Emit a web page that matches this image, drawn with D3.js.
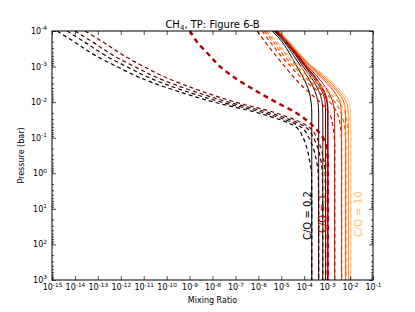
<!DOCTYPE html>
<html><head><meta charset="utf-8">
<script src="https://cdn.jsdelivr.net/npm/d3@7"></script>
<style>body{margin:0;background:#fff}svg{display:block}text{font-family:"DejaVu Sans",sans-serif}</style>
</head><body><svg id="c" width="415" height="312"></svg>
<script>
// ---- data ----
const pressureBar = [1e-4, 2e-4, 5e-4, 1e-3, 2e-3, 5e-3, 1e-2, 2e-2, 5e-2, 1e-1, 2e-1, 5e-1, 1, 10, 100, 1000];
const coRatios = [0.2, 0.4, 0.6, 0.8, 1, 2, 4, 6, 8, 10];
const lineColors = ["#000000", "#250000", "#4a0000", "#700000", "#b00000", "#c80a00", "#e03000", "#ff5c00", "#ff8e1c", "#ffbf80"];
// log10 of CH4 mixing ratio, equilibrium (solid)
const eqLog = [
  [-5.40, -4.97, -4.58, -4.32, -4.05, -3.79, -3.70, -3.67, -3.67, -3.67, -3.67, -3.67, -3.67, -3.67, -3.67, -3.67],
  [-5.32, -4.88, -4.45, -4.14, -3.84, -3.53, -3.40, -3.37, -3.37, -3.37, -3.37, -3.37, -3.37, -3.37, -3.37, -3.37],
  [-5.27, -4.84, -4.36, -4.05, -3.70, -3.36, -3.22, -3.19, -3.19, -3.19, -3.19, -3.19, -3.19, -3.19, -3.19, -3.19],
  [-5.23, -4.79, -4.32, -3.97, -3.62, -3.22, -3.09, -3.07, -3.07, -3.07, -3.07, -3.07, -3.07, -3.07, -3.07, -3.07],
  [-5.19, -4.75, -4.27, -3.92, -3.53, -3.14, -3.00, -2.97, -2.97, -2.97, -2.97, -2.97, -2.97, -2.97, -2.97, -2.97],
  [-5.19, -4.75, -4.23, -3.84, -3.40, -2.96, -2.75, -2.68, -2.67, -2.67, -2.67, -2.67, -2.67, -2.67, -2.67, -2.67],
  [-5.14, -4.71, -4.18, -3.75, -3.27, -2.70, -2.44, -2.38, -2.37, -2.37, -2.37, -2.37, -2.37, -2.37, -2.37, -2.37],
  [-5.14, -4.71, -4.18, -3.70, -3.18, -2.57, -2.27, -2.20, -2.19, -2.19, -2.19, -2.19, -2.19, -2.19, -2.19, -2.19],
  [-5.10, -4.66, -4.14, -3.66, -3.09, -2.48, -2.16, -2.08, -2.07, -2.07, -2.07, -2.07, -2.07, -2.07, -2.07, -2.07],
  [-5.10, -4.64, -4.10, -3.62, -3.00, -2.40, -2.05, -1.98, -1.97, -1.97, -1.97, -1.97, -1.97, -1.97, -1.97, -1.97]
];
// log10 of CH4 mixing ratio, disequilibrium (dashed)
const diseqLog = [
  [-14.78, -14.04, -13.08, -12.17, -11.20, -9.50, -7.93, -6.02, -4.36, -4.05, -3.88, -3.75, -3.68, -3.67, -3.67, -3.67],
  [-14.35, -13.60, -12.65, -11.75, -10.80, -9.15, -7.60, -5.75, -4.15, -3.80, -3.60, -3.45, -3.39, -3.37, -3.37, -3.37],
  [-14.00, -13.25, -12.30, -11.40, -10.45, -8.80, -7.30, -5.50, -3.95, -3.60, -3.40, -3.26, -3.21, -3.19, -3.19, -3.19],
  [-13.56, -12.80, -11.85, -11.00, -10.05, -8.45, -7.00, -5.25, -3.80, -3.45, -3.27, -3.13, -3.09, -3.07, -3.07, -3.07],
  [-8.98, -8.68, -8.11, -7.67, -7.06, -6.06, -5.23, -4.36, -3.57, -3.18, -3.02, -2.97, -2.97, -2.97, -2.97, -2.97],
  [-6.06, -5.71, -5.23, -4.84, -4.45, -3.84, -3.31, -2.92, -2.74, -2.69, -2.67, -2.67, -2.67, -2.67, -2.67, -2.67],
  [-5.84, -5.49, -5.01, -4.58, -4.14, -3.40, -2.88, -2.57, -2.42, -2.38, -2.37, -2.37, -2.37, -2.37, -2.37, -2.37],
  [-5.75, -5.36, -4.88, -4.45, -3.97, -3.18, -2.66, -2.40, -2.24, -2.20, -2.19, -2.19, -2.19, -2.19, -2.19, -2.19],
  [-5.67, -5.27, -4.75, -4.32, -3.79, -3.00, -2.48, -2.22, -2.11, -2.08, -2.07, -2.07, -2.07, -2.07, -2.07, -2.07],
  [-5.58, -5.19, -4.66, -4.18, -3.66, -2.88, -2.35, -2.09, -1.99, -1.97, -1.97, -1.97, -1.97, -1.97, -1.97, -1.97]
];
const xTickExp = [-15, -14, -13, -12, -11, -10, -9, -8, -7, -6, -5, -4, -3, -2, -1];
const yTickExp = [-4, -3, -2, -1, 0, 1, 2, 3];
const labels = [
  {text: "C/O = 0.2", idx: 0, x: 1.9e-4, p: 75},
  {text: "C/O = 1", idx: 4, x: 8.5e-4, p: 48},
  {text: "C/O = 10", idx: 9, x: 3.2e-2, p: 62}
];

// ---- drawing ----
const svg = d3.select("#c");
const L = 52, R = 373, T = 31, B = 280;
const x = d3.scaleLog().domain([1e-15, 1e-1]).range([L, R]);
const y = d3.scaleLog().domain([1e-4, 1e3]).range([T, B]);

svg.append("defs").append("clipPath").attr("id", "clip")
  .append("rect").attr("x", L).attr("y", T).attr("width", R - L).attr("height", B - T);

const g = svg.append("g").attr("clip-path", "url(#clip)");
const line = d3.line().x(d => x(Math.pow(10, d[0]))).y(d => y(d[1])).curve(d3.curveMonotoneY);

coRatios.forEach((co, i) => {
  const eq = eqLog[i].map((v, k) => [v, pressureBar[k]]);
  const dq = diseqLog[i].map((v, k) => [v, pressureBar[k]]);
  const thick = co === 1;
  g.append("path").attr("d", line(eq)).attr("fill", "none")
    .attr("stroke", lineColors[i]).attr("stroke-width", thick ? 1.6 : 1);
  g.append("path").attr("d", line(dq)).attr("fill", "none")
    .attr("stroke", lineColors[i]).attr("stroke-width", thick ? 2.4 : 1.2)
    .attr("stroke-dasharray", thick ? "5,4" : "4,3");
});

// labels
labels.forEach(l => {
  svg.append("text")
    .attr("transform", `translate(${x(l.x)},${y(l.p)}) rotate(-90)`)
    .attr("text-anchor", "start").attr("font-size", 10)
    .attr("fill", lineColors[l.idx]).text(l.text);
});

// minor ticks for y
const yMinor = [];
for (let e = -4; e < 3; e++) for (let m = 2; m <= 9; m++) yMinor.push(m * Math.pow(10, e));

function supLabel(sel, exps) {
  sel.selectAll(".tick text").each(function(d, i) {
    const t = d3.select(this);
    t.text("");
    t.append("tspan").text("10");
    t.append("tspan").attr("font-size", 5.8).attr("dy", -3.6).text(String(exps[i]));
  });
}

const axB = svg.append("g").attr("transform", `translate(0,${B})`)
  .call(d3.axisBottom(x).tickValues(xTickExp.map(e => Math.pow(10, e))).tickSize(-4).tickPadding(4.5).tickFormat(() => "x"));
supLabel(axB, xTickExp);
const axT = svg.append("g").attr("transform", `translate(0,${T})`)
  .call(d3.axisTop(x).tickValues(xTickExp.map(e => Math.pow(10, e))).tickSize(-4).tickFormat(""));
const axL = svg.append("g").attr("transform", `translate(${L},0)`)
  .call(d3.axisLeft(y).tickValues(yTickExp.map(e => Math.pow(10, e))).tickSize(-4).tickPadding(5).tickFormat(() => "x"));
supLabel(axL, yTickExp);
const axR = svg.append("g").attr("transform", `translate(${R},0)`)
  .call(d3.axisRight(y).tickValues(yTickExp.map(e => Math.pow(10, e))).tickSize(-4).tickFormat(""));
const axLm = svg.append("g").attr("transform", `translate(${L},0)`)
  .call(d3.axisLeft(y).tickValues(yMinor).tickSize(-2).tickFormat(""));
const axRm = svg.append("g").attr("transform", `translate(${R},0)`)
  .call(d3.axisRight(y).tickValues(yMinor).tickSize(-2).tickFormat(""));

[axB, axT, axL, axR, axLm, axRm].forEach(a => {
  a.select(".domain").remove();
  a.selectAll(".tick line").attr("stroke", "#000").attr("stroke-width", 0.7);
  a.selectAll(".tick text").attr("font-size", 8).attr("fill", "#000").attr("font-family", "DejaVu Sans");
});
axB.selectAll(".tick text").attr("dy", "0.71em");
axL.selectAll(".tick text").attr("dy", "0.32em");

svg.append("rect").attr("x", L).attr("y", T).attr("width", R - L).attr("height", B - T)
  .attr("fill", "none").attr("stroke", "#000").attr("stroke-width", 1);

// title and axis labels
const title = svg.append("text").attr("x", (L + R) / 2).attr("y", 27.5).attr("text-anchor", "middle").attr("font-size", 10);
title.append("tspan").text("CH");
title.append("tspan").attr("font-size", 7).attr("dy", 2).text("4");
title.append("tspan").attr("dy", -2).text(", TP: Figure 6-B");

svg.append("text").attr("x", (L + R) / 2).attr("y", 303).attr("text-anchor", "middle").attr("font-size", 8).text("Mixing Ratio");
svg.append("text").attr("transform", `translate(24,${(T + B) / 2}) rotate(-90)`).attr("text-anchor", "middle").attr("font-size", 8).text("Pressure (bar)");
</script></body></html>
